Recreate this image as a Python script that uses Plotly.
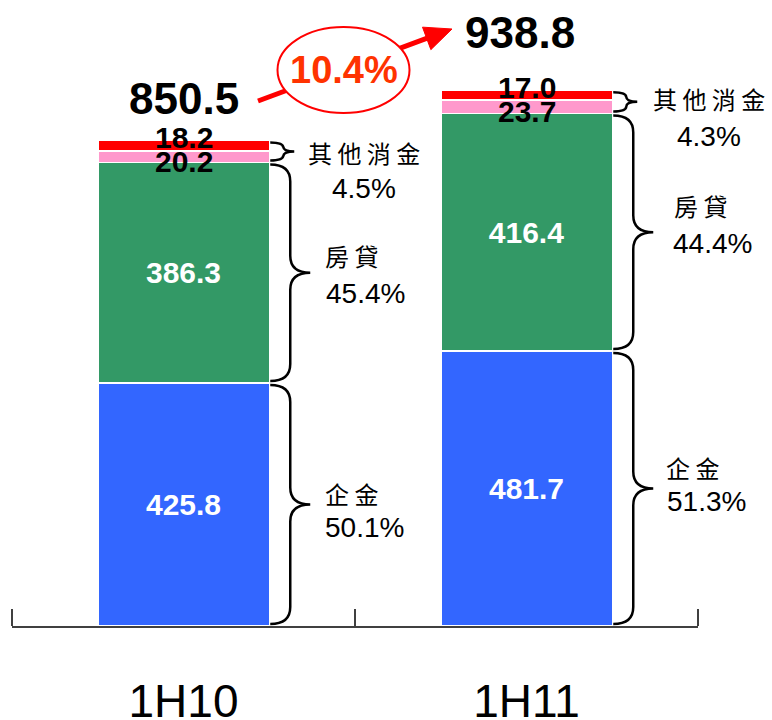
import math
import plotly.graph_objects as go

# ---- data -------------------------------------------------------------
categories = ["1H10", "1H11"]
corporate = [425.8, 481.7]      # 企金
mortgage = [386.3, 416.4]       # 房貸
consumer_pink = [20.2, 23.7]    # 其他消金 (lower part)
consumer_red = [18.2, 17.0]     # 其他消金 (upper part)
group_names = {"consumer": "其 他 消 金", "mortgage": "房 貸", "corporate": "企 金"}

totals = [a + b + c + d for a, b, c, d in zip(corporate, mortgage, consumer_pink, consumer_red)]
growth = totals[1] / totals[0] - 1

# ---- layout geometry --------------------------------------------------
W, H = 772, 720
M_L, M_R, M_T, M_B = 12, 74, 0, 94
PLOT_W = W - M_L - M_R
PLOT_H = H - M_T - M_B
X_RANGE = [-0.5, 1.5]
PX_PER_UNIT = 0.5707
Y_RANGE = [0, PLOT_H / PX_PER_UNIT]
BAR_W = 0.5

NUM_FONT = "Liberation Sans, Arial, sans-serif"
CJK_FONT = "Noto Sans CJK TC, Noto Sans CJK SC, sans-serif"

BLUE, GREEN, PINK, RED = "#3366FF", "#339966", "#FF99CC", "#FF0000"


def x_to_px(x):
    return M_L + (x - X_RANGE[0]) / (X_RANGE[1] - X_RANGE[0]) * PLOT_W


def px_to_x(p):
    return X_RANGE[0] + (p - M_L) / PLOT_W * (X_RANGE[1] - X_RANGE[0])


def y_to_px(v):
    return M_T + PLOT_H - (v - Y_RANGE[0]) / (Y_RANGE[1] - Y_RANGE[0]) * PLOT_H


def px_to_y(p):
    return Y_RANGE[0] + (M_T + PLOT_H - p) / PLOT_H * (Y_RANGE[1] - Y_RANGE[0])


def paper_x(p):
    return (p - M_L) / PLOT_W


def paper_y(p):
    return (M_T + PLOT_H - p) / PLOT_H


fig = go.Figure()

x_pos = list(range(len(categories)))
seg_line = dict(color="white", width=1.5)
inside_font = dict(family=NUM_FONT, size=30, color="white", weight="bold")

fig.add_trace(go.Bar(
    x=x_pos, y=corporate, width=BAR_W, marker=dict(color=BLUE, line=seg_line),
    text=[f"{v:.1f}" for v in corporate], textposition="inside", insidetextanchor="middle",
    textangle=0, textfont=inside_font, name="企金", hoverinfo="skip"))
fig.add_trace(go.Bar(
    x=x_pos, y=mortgage, width=BAR_W, marker=dict(color=GREEN, line=seg_line),
    text=[f"{v:.1f}" for v in mortgage], textposition="inside", insidetextanchor="middle",
    textangle=0, textfont=inside_font, name="房貸", hoverinfo="skip"))
fig.add_trace(go.Bar(
    x=x_pos, y=consumer_pink, width=BAR_W, marker=dict(color=PINK, line=seg_line),
    name="其他消金", hoverinfo="skip"))
fig.add_trace(go.Bar(
    x=x_pos, y=consumer_red, width=BAR_W, marker=dict(color=RED, line=seg_line),
    name="其他消金", hoverinfo="skip"))

annotations = []
shapes = []


def label_at(px, py, text, font):
    annotations.append(dict(x=paper_x(px), y=paper_y(py), xref="paper", yref="paper",
                            xanchor="center", yanchor="middle",
                            text=text, showarrow=False, font=font))


small_font = dict(family=NUM_FONT, size=30, color="black", weight="bold")
# small value labels on the thin consumer segments
for i in x_pos:
    base = corporate[i] + mortgage[i]
    cx = x_to_px(i)
    label_at(cx, y_to_px(base + consumer_pink[i] / 2) + 5, f"{consumer_pink[i]:.1f}", small_font)
    label_at(cx, y_to_px(base + consumer_pink[i] + consumer_red[i] / 2) - 8,
             f"{consumer_red[i]:.1f}", small_font)

# totals above each bar
total_shift = [(0, 42), (-7, 58)]
for i in x_pos:
    label_at(x_to_px(i) + total_shift[i][0], y_to_px(totals[i]) - total_shift[i][1],
             f"{totals[i]:.1f}", dict(family=NUM_FONT, size=44, color="black", weight="bold"))


def brace_path(edge_px, top_px, bot_px, dx1, dx2, r):
    mid = (top_px + bot_px) / 2
    x0, x1, x2 = edge_px, edge_px + dx1, edge_px + dx2

    def P(px, py):
        return f"{px_to_x(px):.5f},{px_to_y(py):.4f}"

    return (f"M {P(x0, top_px)} Q {P(x1, top_px)} {P(x1, top_px + r)} "
            f"L {P(x1, mid - r)} Q {P(x1, mid)} {P(x2, mid)} "
            f"Q {P(x1, mid)} {P(x1, mid + r)} L {P(x1, bot_px - r)} "
            f"Q {P(x1, bot_px)} {P(x0, bot_px)}")


# label offsets (px): chinese dx, chinese dy, percent dx, percent dy  (relative to brace tip)
label_offsets = {
    "consumer": [(95, 1, 95, 37), (97, -3, 97, 35)],
    "mortgage": [(82, -17, 96, 21), (88, -27, 100, 11)],
    "corporate": [(82, -11, 95, 23), (80, -21, 94, 13)],
}

for i in x_pos:
    edge = x_to_px(i + BAR_W / 2)
    spans = {
        "corporate": (0, corporate[i]),
        "mortgage": (corporate[i], corporate[i] + mortgage[i]),
        "consumer": (corporate[i] + mortgage[i], totals[i]),
    }
    for key, (lo, hi) in spans.items():
        top_px, bot_px = y_to_px(hi) + 2, y_to_px(lo) - 2
        if key == "consumer":
            path = brace_path(edge + 1, top_px, bot_px, 13, 24, 5)
        else:
            path = brace_path(edge + 1, top_px, bot_px, 20, 40, 17)
        shapes.append(dict(type="path", path=path, xref="x", yref="y",
                           line=dict(color="black", width=2.5), layer="above"))
        tip_px = (top_px + bot_px) / 2
        cdx, cdy, pdx, pdy = label_offsets[key][i]
        share = (hi - lo) / totals[i] * 100
        label_at(edge + cdx, tip_px + cdy, group_names[key],
                 dict(family=CJK_FONT, size=24, color="black"))
        label_at(edge + pdx, tip_px + pdy, f"{share:.1f}%",
                 dict(family=NUM_FONT, size=28, color="black"))

# growth arrow with ellipse badge
sx, sy = 258, 101
tx, ty = 452, 29
L = math.hypot(tx - sx, ty - sy)
dx, dy = (tx - sx) / L, (ty - sy) / L
head_len, head_half = 27, 12
bx, by = tx - head_len * dx, ty - head_len * dy
nx, ny = -dy, dx
shapes.append(dict(type="line", xref="paper", yref="paper",
                   x0=paper_x(sx), y0=paper_y(sy), x1=paper_x(bx + 2 * dx), y1=paper_y(by + 2 * dy),
                   line=dict(color=RED, width=5), layer="above"))
shapes.append(dict(type="path", xref="paper", yref="paper",
                   path=(f"M {paper_x(tx):.5f},{paper_y(ty):.5f} "
                         f"L {paper_x(bx + head_half * nx):.5f},{paper_y(by + head_half * ny):.5f} "
                         f"L {paper_x(bx - head_half * nx):.5f},{paper_y(by - head_half * ny):.5f} Z"),
                   fillcolor=RED, line=dict(color=RED, width=1), layer="above"))
ecx, ecy, erx, ery = 343.5, 70, 66, 43
shapes.append(dict(type="circle", xref="paper", yref="paper",
                   x0=paper_x(ecx - erx), x1=paper_x(ecx + erx),
                   y0=paper_y(ecy + ery), y1=paper_y(ecy - ery),
                   fillcolor="white", line=dict(color=RED, width=2), layer="above"))
label_at(ecx, ecy, f"{growth * 100:.1f}%",
         dict(family=NUM_FONT, size=38, color="#FF3300", weight="bold"))

fig.update_layout(
    barmode="stack",
    width=W, height=H,
    margin=dict(l=M_L, r=M_R, t=M_T, b=M_B, pad=0, autoexpand=False),
    paper_bgcolor="white", plot_bgcolor="white",
    showlegend=False,
    annotations=annotations,
    shapes=shapes,
    xaxis=dict(
        range=X_RANGE, tickvals=x_pos, ticktext=categories, ticks="",
        tickfont=dict(family=NUM_FONT, size=46, color="black"),
        ticklabelstandoff=34, automargin=False,
        showline=True, linecolor="#404040", linewidth=1.5,
        showgrid=False, zeroline=False, fixedrange=True,
        minor=dict(tickvals=[-0.5, 0.5, 1.5], ticks="inside", ticklen=17,
                   tickcolor="#404040", tickwidth=1.5, showgrid=False),
    ),
    yaxis=dict(range=Y_RANGE, visible=False, fixedrange=True, automargin=False),
)

fig.write_html("out.html")
